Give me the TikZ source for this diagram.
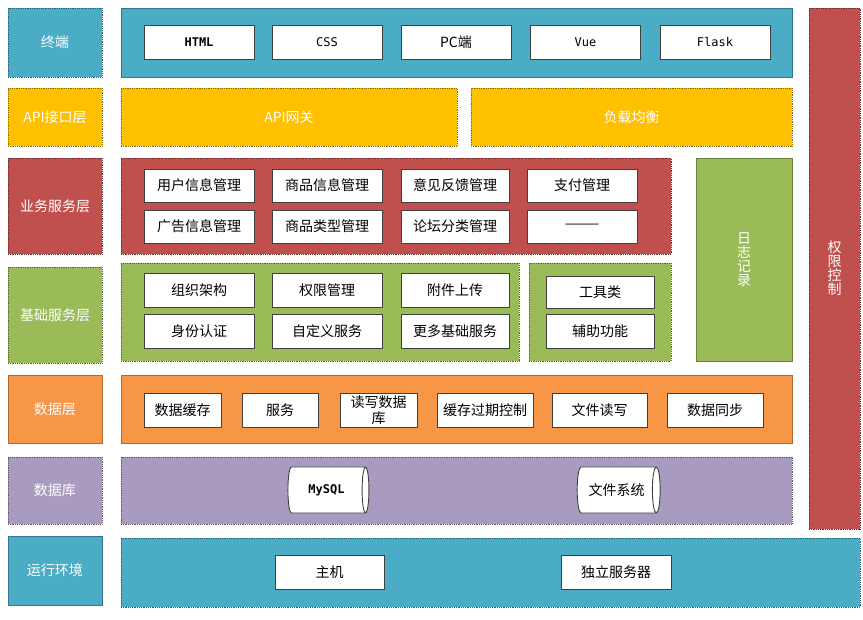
\documentclass[tikz,border=0pt]{standalone}
\usepackage{fontspec}
\setmainfont{Noto Sans CJK SC}
\setmonofont{DejaVu Sans Mono}
\usepackage{tikz}
\usetikzlibrary{shapes.geometric}
\definecolor{termteal}{HTML}{4BACC6}
\definecolor{apigold}{HTML}{FFC000}
\definecolor{bizred}{HTML}{C0504D}
\definecolor{baseolive}{HTML}{9BBB59}
\definecolor{dataorange}{HTML}{F79646}
\definecolor{dbpurple}{HTML}{A99AC0}
\tikzset{
  box size/.style 2 args={minimum width=#1pt, minimum height=#2pt},
  layer/.style={
    draw=#1!70!black, fill=#1, text=white,
    inner sep=0pt, outer sep=0pt, line width=0.8pt,
    font=\fontsize{14}{16}\selectfont, align=center
  },
  dots/.style={densely dotted, draw=#1!55!black},
  item/.style={
    draw=black!75, fill=white, line width=0.9pt,
    inner sep=0pt, outer sep=0pt,
    font=\fontsize{14}{16}\selectfont, align=center
  },
  latin/.style={font=\ttfamily\fontsize{12}{14}\selectfont},
  store/.style={
    cylinder, shape aspect=0.6, draw=black!75, fill=white,
    line width=0.9pt, inner sep=0pt,
    font=\fontsize{14}{16}\selectfont
  },
  upright/.style={font=\fontsize{14}{14}\selectfont, align=center}
}

\begin{document}
\begin{tikzpicture}[x=1pt, y=-1pt]
  \useasboundingbox (0,0) rectangle (863,620);

  % Layer labels
  \node[layer=termteal, dots=termteal, box size={94}{69}] (lblterm) at (55,42.5) {终端};
  \node[layer=apigold, dots=apigold, box size={94}{58}] (lblapi) at (55,117) {API接口层};
  \node[layer=bizred, dots=bizred, box size={94}{96}] (lblbiz) at (55,206) {业务服务层};
  \node[layer=baseolive, dots=baseolive, box size={94}{96}] (lblbase) at (55,315) {基础服务层};
  \node[layer=dataorange, box size={94}{68}] (lbldata) at (55,409) {数据层};
  \node[layer=dbpurple, dots=dbpurple, box size={94}{67}] (lbldb) at (55,490.5) {数据库};
  \node[layer=termteal, box size={94}{69}] (lblenv) at (55,570.5) {运行环境};

  % Panels
  \node[layer=termteal, box size={671}{69}] (pterm) at (456.5,42.5) {};
  \node[layer=apigold, dots=apigold, box size={336}{58}] (gateway) at (289,117) {API网关};
  \node[layer=apigold, dots=apigold, box size={321}{58}] (balance) at (631.5,117) {负载均衡};
  \node[layer=bizred, dots=bizred, box size={550}{96}] (pbiz) at (396,206) {};
  \node[layer=baseolive, box size={96}{203}] (logging) at (744,259.5) {};
  \node[layer=bizred, dots=bizred, box size={51}{521}] (authctl) at (834.5,268.5) {};
  \node[layer=baseolive, dots=baseolive, box size={398}{98}] (pbase) at (320,312) {};
  \node[layer=baseolive, dots=baseolive, box size={142}{98}] (ptools) at (600,312) {};
  \node[layer=dataorange, box size={671}{68}] (pdata) at (456.5,409) {};
  \node[layer=dbpurple, dots=dbpurple, box size={671}{67}] (pdb) at (456.5,490.5) {};
  \node[layer=termteal, dots=termteal, box size={739}{69}] (penv) at (490.5,572.5) {};

  % Vertical texts
  \node[upright, text=white] at (logging.center) {日\\志\\记\\录};
  \node[upright, text=white] at (authctl.center) {权\\限\\控\\制};

  % Terminal
  \node[item, latin, box size={110}{34}] (html) at (199,42) {\bfseries HTML};
  \node[item, latin, box size={110}{34}] (css) at (327,42) {CSS};
  \node[item, box size={110}{34}] (pc) at (456,42) {PC端};
  \node[item, latin, box size={110}{34}] (vue) at (585.5,42) {Vue};
  \node[item, latin, box size={110}{34}] (flask) at (715,42) {Flask};

  % Business services
  \node[item, box size={110}{33}] (user) at (199,185.5) {用户信息管理};
  \node[item, box size={110}{33}] (goods) at (327,185.5) {商品信息管理};
  \node[item, box size={108}{33}] (feedback) at (455,185.5) {意见反馈管理};
  \node[item, box size={110}{33}] (pay) at (582,185.5) {支付管理};
  \node[item, box size={110}{33}] (ads) at (199,226.5) {广告信息管理};
  \node[item, box size={110}{33}] (gtype) at (327,226.5) {商品类型管理};
  \node[item, box size={108}{33}] (forum) at (455,226.5) {论坛分类管理};
  \node[item, box size={110}{33}] (blank) at (582,226.5) {———};

  % Base services
  \node[item, box size={110}{34}] (org) at (199,290.5) {组织架构};
  \node[item, box size={110}{34}] (perm) at (327,290.5) {权限管理};
  \node[item, box size={108}{34}] (upload) at (455,290.5) {附件上传};
  \node[item, box size={110}{34}] (ident) at (199,331) {身份认证};
  \node[item, box size={110}{34}] (custom) at (327,331) {自定义服务};
  \node[item, box size={108}{34}] (more) at (455,331) {更多基础服务};
  \node[item, box size={108}{32}] (tools) at (600,292) {工具类};
  \node[item, box size={108}{34}] (helper) at (600,331) {辅助功能};

  % Data layer
  \node[item, box size={77}{34}] (cache) at (182.5,410) {数据缓存};
  \node[item, box size={76}{34}] (service) at (280,410) {服务};
  \node[item, box size={77}{34}, text width=58pt] (rwdb) at (378.5,410) {读写数据\\库};
  \node[item, box size={96}{34}] (expire) at (485,410) {缓存过期控制};
  \node[item, box size={95}{34}] (fileio) at (599.5,410) {文件读写};
  \node[item, box size={96}{34}] (sync) at (715,410) {数据同步};

  % Databases
  \node[store, latin, minimum height=81pt, minimum width=46pt] (mysql) at (326.5,490) {\bfseries MySQL};
  \node[store, minimum height=83pt, minimum width=46pt] (fs) at (616.5,490) {文件系统};

  % Runtime
  \node[item, box size={109}{34}] (host) at (329.5,572) {主机};
  \node[item, box size={110}{34}] (server) at (616,572) {独立服务器};
\end{tikzpicture}
\end{document}
